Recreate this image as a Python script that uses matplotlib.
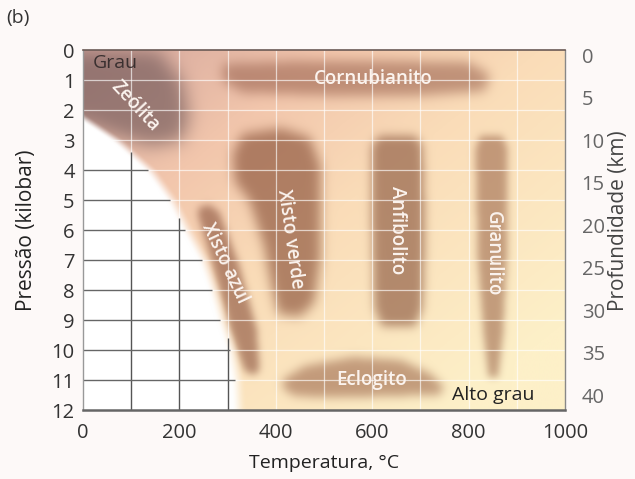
import numpy as np
import matplotlib
matplotlib.use("Agg")
import matplotlib.pyplot as plt
from matplotlib.path import Path
from matplotlib.colors import LinearSegmentedColormap

plt.rcParams['font.family'] = ['Open Sans', 'DejaVu Sans']

# ---- axis values ----
temp_ticks = [0, 200, 400, 600, 800, 1000]
pressure_ticks = list(range(0, 13))
depth_ticks = list(range(0, 41, 5))
km_per_kbar = 3.53          # depth scale of the right-hand axis
kbar_at_zero_km = 0.17

# ---- facies fields (temperature in °C, pressure in kbar) ----
zeolita_t = [0, 155, 205, 220, 205, 140, 60, 0]
zeolita_p = [0, 0, 1.0, 2.2, 3.0, 3.2, 2.8, 2.4]

cornubianito_t = [290, 450, 650, 800, 845, 835, 700, 500, 330, 290]
cornubianito_p = [0.45, 0.35, 0.35, 0.4, 0.8, 1.35, 1.5, 1.5, 1.4, 1.0]

xisto_verde_t = [330, 410, 470, 492, 492, 480, 450, 405, 390, 375, 345, 315, 310]
xisto_verde_p = [2.8, 2.6, 2.9, 3.8, 7.0, 8.4, 8.9, 8.8, 7.8, 6.5, 5.0, 4.4, 3.5]

xisto_azul_t = [240, 262, 282, 322, 360, 366, 352, 335, 305, 268, 238]
xisto_azul_p = [5.25, 5.15, 5.4, 7.1, 9.3, 10.7, 10.85, 10.7, 9.3, 7.1, 5.5]

anfibolito_t = [615, 690, 705, 710, 705, 690, 620, 605, 600, 600]
anfibolito_p = [2.85, 2.85, 3.2, 6.0, 8.6, 9.2, 9.2, 8.6, 6.0, 3.2]

granulito_t = [825, 870, 882, 880, 872, 862, 842, 832, 820, 815]
granulito_p = [2.85, 2.85, 3.3, 7.0, 9.5, 10.9, 10.9, 9.5, 7.0, 3.3]

eclogito_t = [415, 460, 560, 660, 720, 750, 740, 640, 520, 440, 415]
eclogito_p = [11.0, 10.55, 10.25, 10.35, 10.8, 11.25, 11.5, 11.55, 11.6, 11.55, 11.3]

# edge of the unshaded (non-metamorphic) field
boundary_p = [0.0, 2.2, 3.0, 4.0, 5.0, 6.0, 7.0, 8.0, 9.0, 10.0, 11.0, 12.0]
boundary_t = [-200, -10, 65, 135, 180, 212, 246, 267, 284, 304, 315, 318]

# grid segments inside the unshaded field
gray_v_t = [100, 200, 300]
gray_v_top = [3.4, 5.6, 9.6]
gray_h_p = [4, 5, 6, 7, 8, 9, 10, 11]
gray_h_end = [135, 180, 212, 246, 267, 284, 304, 315]

# ---- raster of the diagram ----
T = np.linspace(0, 1000, 501)
P = np.linspace(0, 12, 361)
TT, PP = np.meshgrid(T, P)


def gaussian_blur(a, s):
    r = int(3 * s) + 1
    x = np.arange(-r, r + 1)
    k = np.exp(-0.5 * (x / s) ** 2)
    k /= k.sum()
    a = np.pad(a, r, mode='edge')
    a = np.apply_along_axis(lambda v: np.convolve(v, k, mode='valid'), 1, a)
    a = np.apply_along_axis(lambda v: np.convolve(v, k, mode='valid'), 0, a)
    return a


bg_cmap = LinearSegmentedColormap.from_list(
    'bg', [(0.0, '#d3a59c'), (0.3, '#f2c6ac'), (0.55, '#fadcb8'), (1.0, '#fdf0c8')])
s = np.clip(0.58 * TT / 1000 + 0.55 * PP / 12, 0, 1)
rgb = bg_cmap(s)[..., :3]

pts = np.column_stack([TT.ravel(), PP.ravel()])
facies = [
    (zeolita_t, zeolita_p, (118, 92, 92), 0.68, 9),
    (cornubianito_t, cornubianito_p, (155, 100, 80), 0.6, 6),
    (xisto_verde_t, xisto_verde_p, (145, 90, 65), 0.7, 6),
    (xisto_azul_t, xisto_azul_p, (145, 90, 68), 0.66, 4),
    (anfibolito_t, anfibolito_p, (145, 95, 70), 0.68, 5),
    (granulito_t, granulito_p, (160, 108, 80), 0.62, 4),
    (eclogito_t, eclogito_p, (160, 108, 80), 0.62, 5),
]
for ft, fp, col, strength, sig in facies:
    inside = Path(np.column_stack([ft, fp])).contains_points(pts)
    m = gaussian_blur(inside.reshape(TT.shape).astype(float), sig)
    a = (strength * np.clip(m, 0, 1))[..., None]
    rgb = rgb * (1 - a) + np.array(col) / 255 * a

tb = np.interp(PP, boundary_p, boundary_t)
w = np.clip((TT - tb + 10) / 32, 0, 1)
w = (w * w * (3 - 2 * w))[..., None]
rgb = 1 - w * (1 - rgb)

# ---- figure ----
fig = plt.figure(figsize=(6.35, 4.79), dpi=100, facecolor='#fdf9f8')
ax = fig.add_axes([83 / 635, 1 - 410 / 479, 482 / 635, 360 / 479])
ax.imshow(rgb, extent=[0, 1000, 12, 0], aspect='auto', interpolation='bilinear', zorder=0)
ax.set_xlim(0, 1000)
ax.set_ylim(12, 0)

ax.vlines(np.arange(100, 1000, 100), 0, 12, color='white', lw=0.9, alpha=0.65, zorder=1)
ax.hlines(np.arange(1, 12), 0, 1000, color='white', lw=0.9, alpha=0.65, zorder=1)
ax.vlines(gray_v_t, gray_v_top, 12, color='#555555', lw=1.0, zorder=2)
ax.hlines(gray_h_p, 0, gray_h_end, color='#666666', lw=1.0, zorder=2)

ax.set_xticks(temp_ticks)
ax.set_yticks(pressure_ticks)
ax.tick_params(length=0, labelsize=14.5, colors='#333333')
ax.tick_params(axis='y', pad=6)
ax.tick_params(axis='x', pad=9)
for side, c, lw in [('top', '#6a5a55', 1.2), ('bottom', '#666666', 1.8),
                    ('left', '#999999', 1.0), ('right', '#888888', 1.0)]:
    ax.spines[side].set_color(c)
    ax.spines[side].set_linewidth(lw)

depth = ax.secondary_yaxis(
    'right',
    functions=(lambda p: (p - kbar_at_zero_km) * km_per_kbar,
               lambda d: d / km_per_kbar + kbar_at_zero_km))
depth.set_yticks(depth_ticks)
depth.tick_params(length=0, labelsize=14.5, colors='#666666', pad=12)
depth.spines['right'].set_visible(False)

ax.set_xlabel('Temperatura, °C', fontsize=14, color='#222222')
ax.xaxis.set_label_coords(0.5, -0.147)
ax.xaxis.label.set_va('center')
ax.set_ylabel('Pressão (kilobar)', fontsize=15, color='#222222')
ax.yaxis.set_label_coords(-0.118, 0.5)
ax.yaxis.label.set_va('center')
ax.text(1.11, 0.525, 'Profundidade (km)', transform=ax.transAxes, rotation=90,
        fontsize=15, color='#444444', ha='center', va='center')

lab = dict(color='#fbf3ee', fontsize=13.5, fontweight='semibold', ha='center', va='center', zorder=3)
ax.text(108, 1.87, 'Zeólita', rotation=-47, **lab)
ax.text(602, 0.95, 'Cornubianito', **lab)
ax.text(429, 6.3, 'Xisto verde', rotation=-82, **lab)
ax.text(295, 7.1, 'Xisto azul', rotation=-65, **lab)
ax.text(652, 6.0, 'Anfibolito', rotation=-90, **lab)
ax.text(850, 6.8, 'Granulito', rotation=-90, **lab)
ax.text(598, 11.0, 'Eclogito', **lab)
ax.text(20, 0.45, 'Grau', color='#3a3030', fontsize=14, fontweight='medium',
        ha='left', va='center', zorder=3)
ax.text(851, 11.5, 'Alto grau', color='#222222', fontsize=14, ha='center', va='center', zorder=3)

fig.text(18 / 635, 1 - 18 / 479, '(b)', fontsize=14, color='#333333', ha='center', va='center')

fig.savefig('out.png', dpi=100, facecolor=fig.get_facecolor())
